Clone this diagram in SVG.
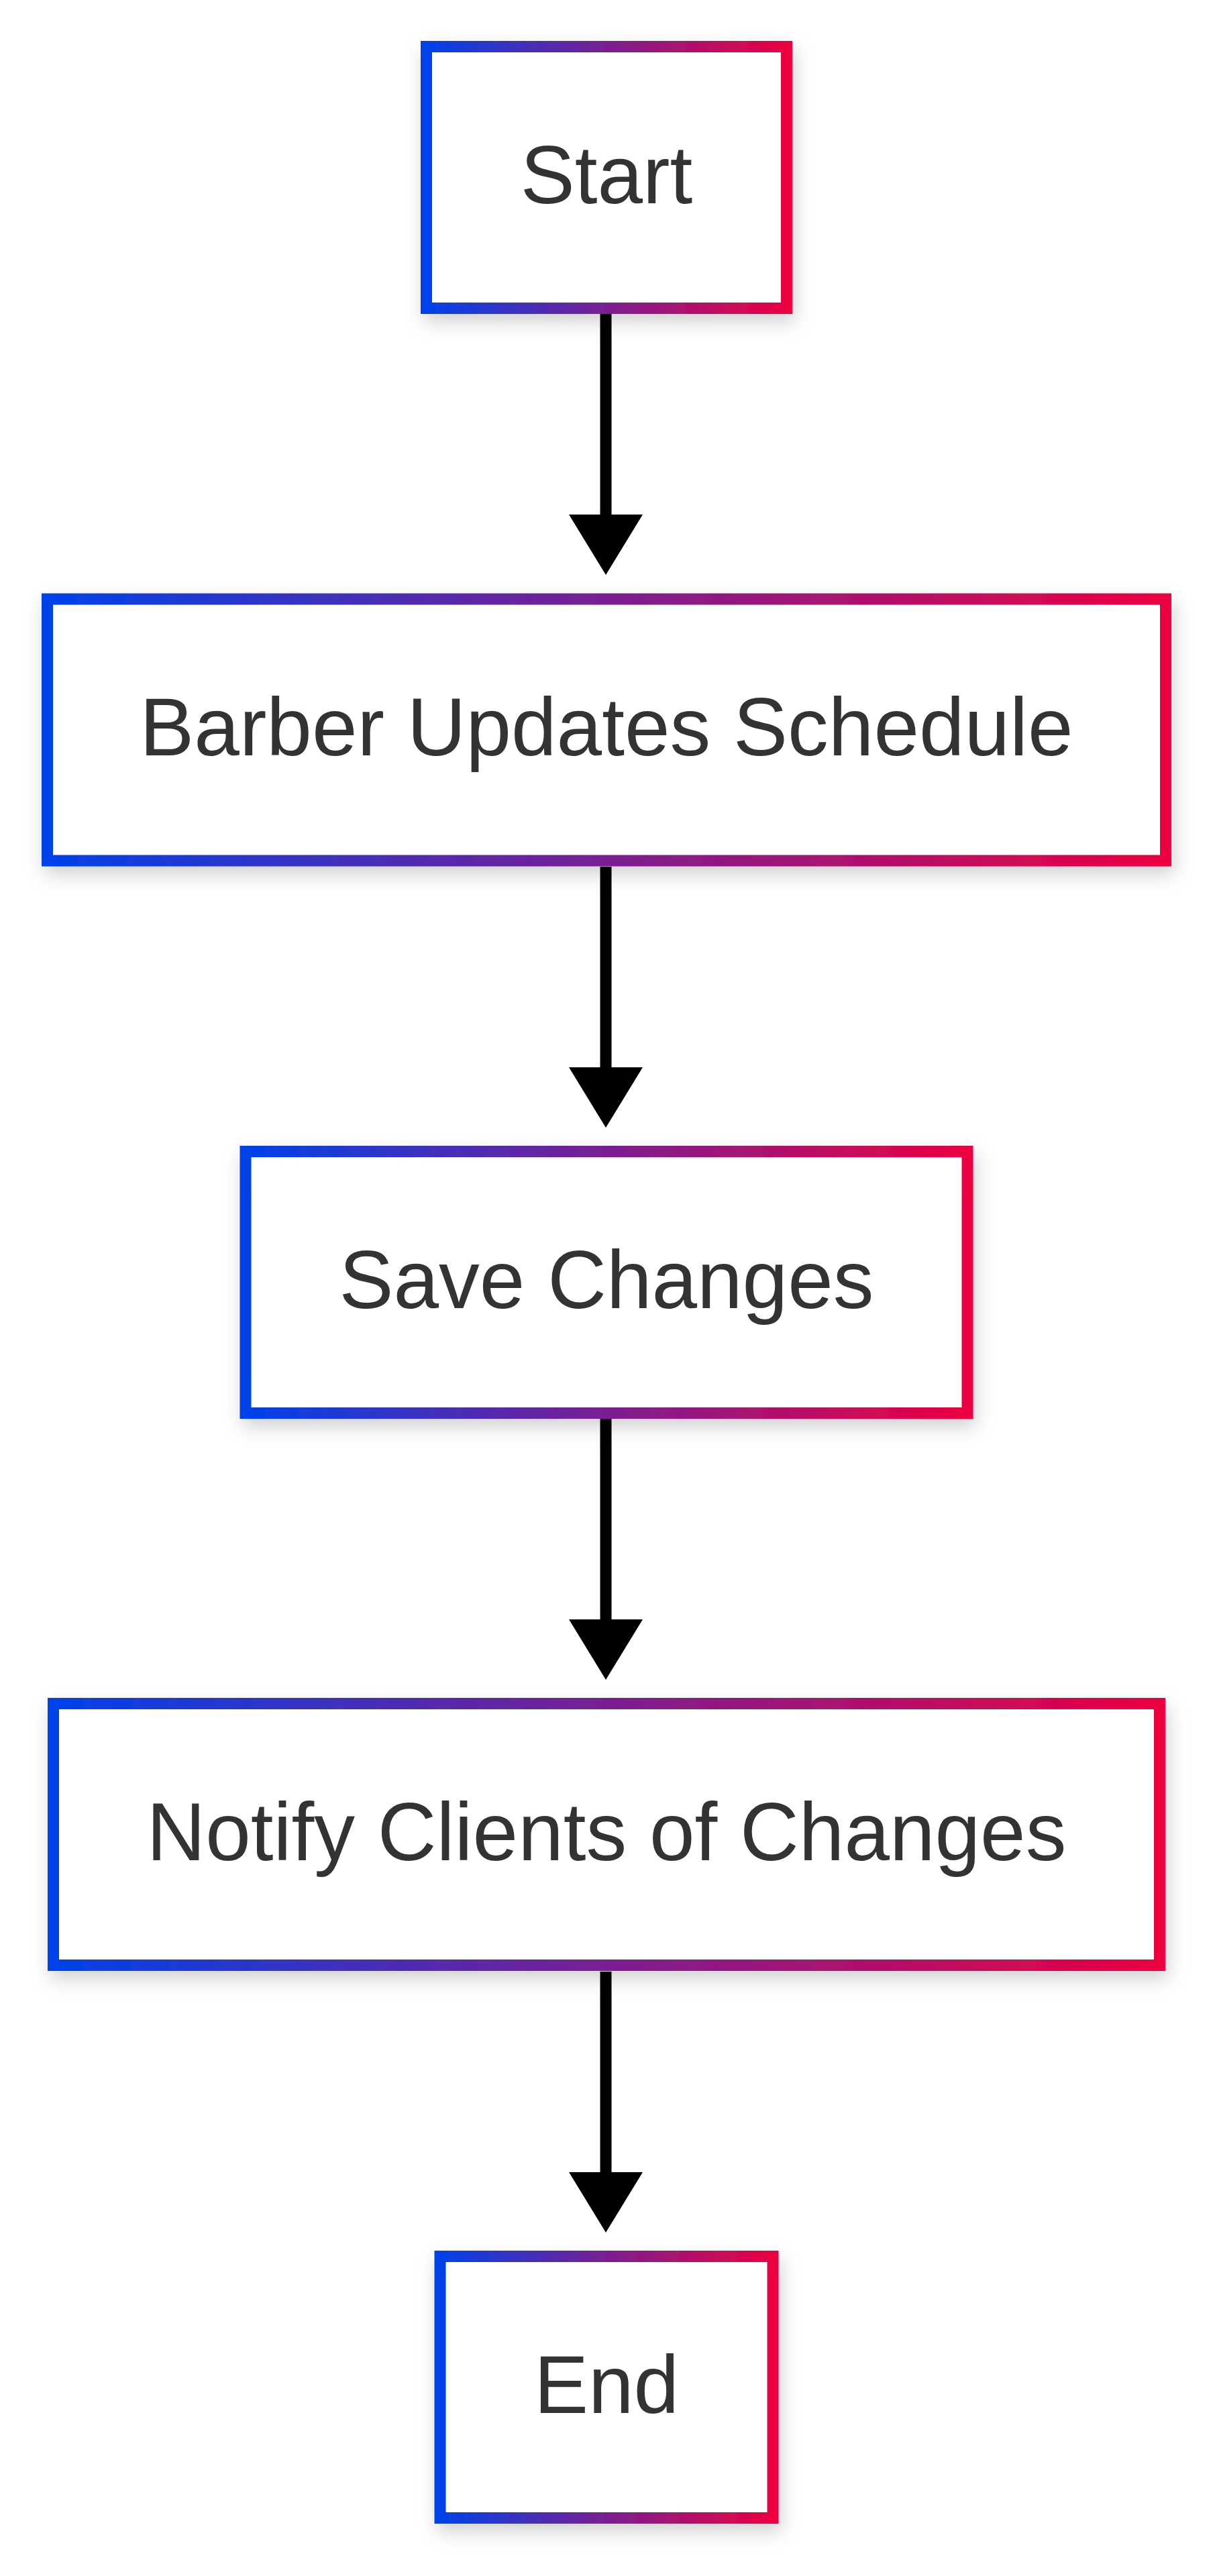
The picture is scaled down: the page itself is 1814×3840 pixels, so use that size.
<svg xmlns="http://www.w3.org/2000/svg" width="1814" height="3840" viewBox="0 0 1814 3840">
  <defs>
    <linearGradient id="grad" x1="0" y1="0" x2="1" y2="0">
      <stop offset="0" stop-color="#0042ea"/>
      <stop offset="0.5" stop-color="#7a1f92"/>
      <stop offset="1" stop-color="#ec0041"/>
    </linearGradient>
    <filter id="shadow" x="-20%" y="-20%" width="140%" height="150%">
      <feDropShadow dx="4" dy="12" stdDeviation="14" flood-color="#000" flood-opacity="0.18"/>
    </filter>
    <marker id="arrow" markerUnits="userSpaceOnUse" viewBox="0 -55 90 110" refX="0" refY="0" markerWidth="90" markerHeight="110" orient="auto">
      <path d="M0,-55 L90,0 L0,55 Z" fill="#000"/>
    </marker>
  </defs>
  <style>
    .box { fill: #ffffff; stroke: url(#grad); stroke-width: 17; filter: url(#shadow); }
    .label { font-family: "Liberation Sans", Arial, sans-serif; font-size: 121.5px; fill: #333333; text-anchor: middle; }
    .edge { stroke: #000; stroke-width: 17; fill: none; marker-end: url(#arrow); }
  </style>
  <rect width="1814" height="3840" fill="#ffffff"/>
  <g id="connectors">
    <path class="edge" d="M903,468 L903,767"/>
    <path class="edge" d="M903,1292 L903,1591"/>
    <path class="edge" d="M903,2115 L903,2414"/>
    <path class="edge" d="M903,2939 L903,3238"/>
  </g>
  <g id="node-start">
    <rect class="box" x="635.5" y="69.5" width="537" height="390"/>
    <text class="label" x="904" y="302.5">Start</text>
  </g>
  <g id="node-barber">
    <rect class="box" x="70.5" y="893" width="1667" height="390"/>
    <text class="label" x="904" y="1126">Barber Updates Schedule</text>
  </g>
  <g id="node-save">
    <rect class="box" x="366" y="1716.5" width="1076" height="390"/>
    <text class="label" x="904" y="1949.5">Save Changes</text>
  </g>
  <g id="node-notify">
    <rect class="box" x="79.5" y="2539.5" width="1649" height="390"/>
    <text class="label" x="904" y="2773">Notify Clients of Changes</text>
  </g>
  <g id="node-end">
    <rect class="box" x="656" y="3363.5" width="496" height="390"/>
    <text class="label" x="904" y="3596.5">End</text>
  </g>
</svg>
